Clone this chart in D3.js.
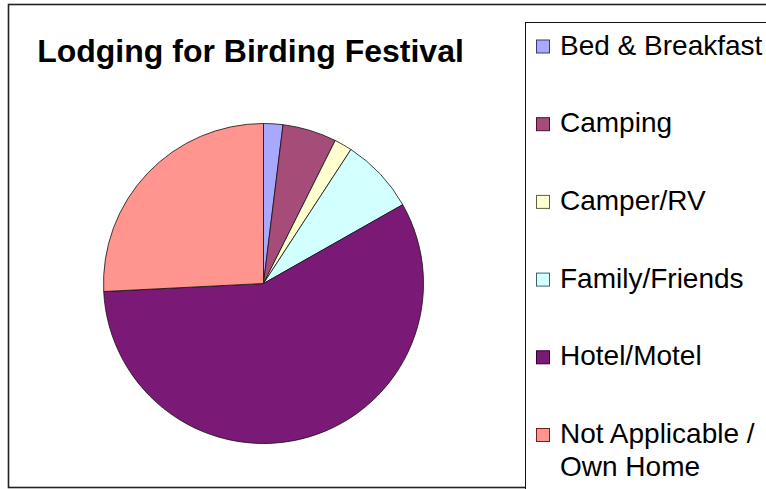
<!DOCTYPE html>
<html>
<head>
<meta charset="utf-8">
<script src="https://cdn.jsdelivr.net/npm/d3@7"></script>
<style>
  html, body { margin: 0; padding: 0; background: #fff; }
  svg { display: block; font-family: "Liberation Sans", Arial, sans-serif; }
</style>
</head>
<body>
<svg id="chart" width="766" height="489"></svg>
<script>
const title = "Lodging for Birding Festival";
const categories = ["Bed & Breakfast", "Camping", "Camper/RV", "Family/Friends", "Hotel/Motel", "Not Applicable / Own Home"];
const legendLines = [["Bed & Breakfast"], ["Camping"], ["Camper/RV"], ["Family/Friends"], ["Hotel/Motel"], ["Not Applicable /", "Own Home"]];
const values = [1.95, 5.45, 1.8, 7.6, 57.4, 25.8];
const colors = ["#A8A8FF", "#A64C78", "#FFFFD0", "#D2FFFF", "#7A1A76", "#FF958E"];
const markerStrokes = ["#3a3a70", "#4a1030", "#606040", "#406060", "#300030", "#702020"];

const svg = d3.select("#chart");

// outer chart border
svg.append("rect")
  .attr("x", 8.5).attr("y", 4.5)
  .attr("width", 800).attr("height", 483)
  .attr("fill", "#fff").attr("stroke", "#222").attr("stroke-width", 1.6);

// title
svg.append("text")
  .attr("x", 250.5).attr("y", 62)
  .attr("text-anchor", "middle")
  .attr("font-weight", "bold")
  .attr("font-size", 32)
  .attr("fill", "#000")
  .text(title);

// pie
const cx = 263.5, cy = 283.5, r = 160;
const pie = d3.pie().sort(null).value(d => d)(values);
const arc = d3.arc().innerRadius(0).outerRadius(r);
const g = svg.append("g").attr("transform", `translate(${cx},${cy})`);
g.selectAll("path").data(pie).join("path")
  .attr("d", arc)
  .attr("fill", (d, i) => colors[i])
  .attr("stroke", "#111")
  .attr("stroke-width", 0.8)
  .attr("stroke-linejoin", "round");

// legend box
svg.append("rect")
  .attr("x", 525.5).attr("y", 22.5)
  .attr("width", 300).attr("height", 480)
  .attr("fill", "#fff").attr("stroke", "#111").attr("stroke-width", 1);

const legendY = d3.scalePoint().domain(categories).range([54.5, 443]);
const lg = svg.append("g");
categories.forEach((c, i) => {
  const y = legendY(c);
  lg.append("rect")
    .attr("x", 536.5).attr("y", y - 14.5)
    .attr("width", 13).attr("height", 13)
    .attr("fill", colors[i]).attr("stroke", markerStrokes[i]).attr("stroke-width", 1);
  const t = lg.append("text")
    .attr("x", 560).attr("y", y)
    .attr("font-size", 28).attr("fill", "#000");
  legendLines[i].forEach((line, j) => {
    t.append("tspan").attr("x", 560).attr("dy", j === 0 ? 0 : 33).text(line);
  });
});
</script>
</body>
</html>
